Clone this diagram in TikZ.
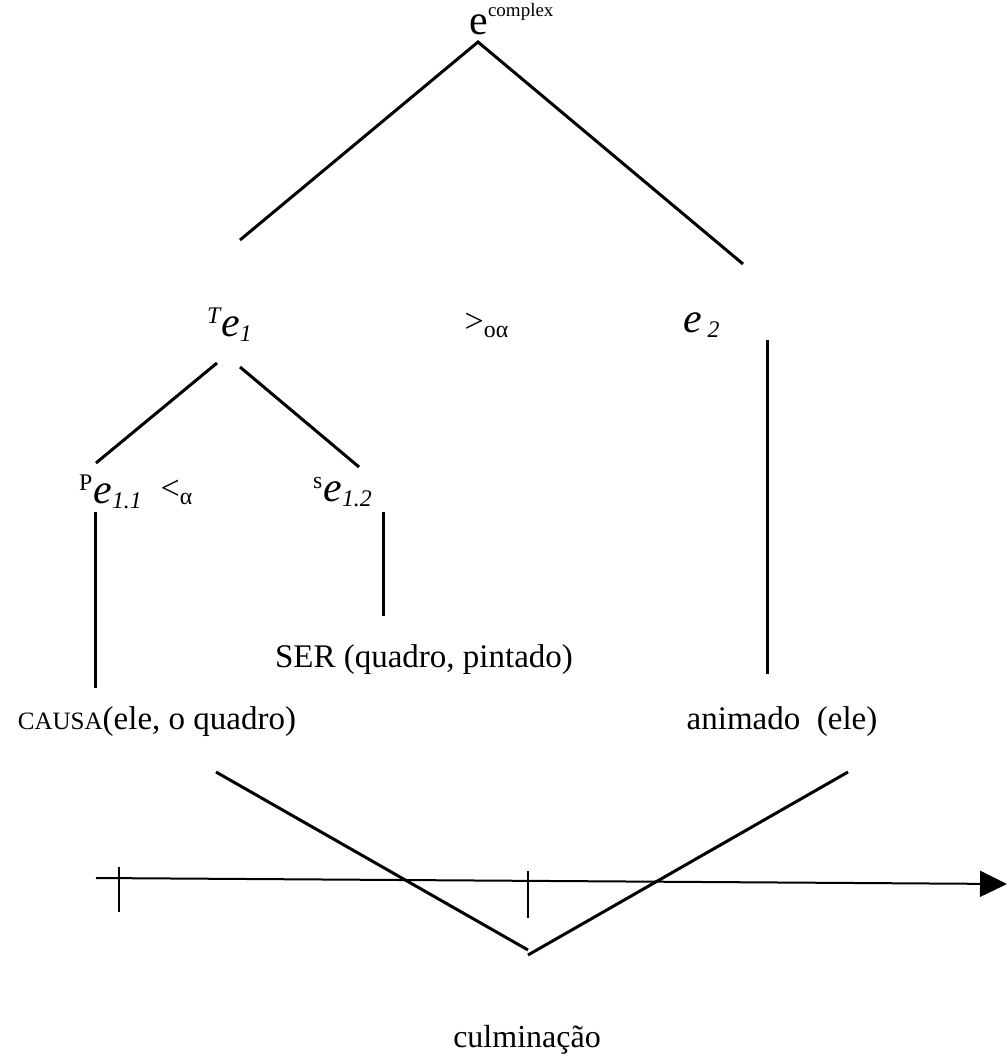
\documentclass[tikz,border=0pt]{standalone}
\usepackage{fontspec}
\setmainfont{Liberation Serif}
\usetikzlibrary{arrows.meta}

% event variable, set a bit larger and in italics
\newcommand{\evar}{{\fontsize{21}{24}\selectfont\itshape e}}

\begin{document}
\begin{tikzpicture}[x=0.5pt, y=-0.5pt,
  lbl/.style={inner sep=0pt, font=\fontsize{17}{20}\selectfont},
  pred/.style={inner sep=0pt, font=\fontsize{16.5}{19}\selectfont},
  branch/.style={line width=1.5pt},
  tickline/.style={line width=0.8pt}]
\useasboundingbox (0,0) rectangle (1007,1059);

%%% labels of the tree %%%
\node[lbl, anchor=base west] (top) at (469,35) {{\fontsize{21}{24}\selectfont e}\raisebox{9pt}{\fontsize{9.5}{11}\selectfont complex}};
\node[lbl] (te1) at (230,325) {\textsuperscript{\itshape T}\evar\textsubscript{\itshape 1}};
\node[lbl] (ord1) at (487,325) {>\textsubscript{oα}};
\node[lbl] (e2) at (702,325) {\evar\,\textsubscript{\itshape 2}};
\node[lbl] (pe11) at (111,492) {\textsuperscript{P}\evar\textsubscript{\itshape 1.1}};
\node[lbl] (ord2) at (177,492) {<\textsubscript{α}};
\node[lbl] (se12) at (343,492) {\textsuperscript{s}\evar\textsubscript{\itshape 1.2}};

%%% predicates %%%
\node[pred] (ser) at (424,660) {SER (quadro, pintado)};
\node[pred] (causa) at (157,722) {{\fontsize{12.5}{15}\selectfont CAUSA}(ele, o quadro)};
\node[pred] (anim) at (782,722) {animado\ \ (ele)};
\node[pred, font=\fontsize{16}{19}\selectfont] (culm) at (527,1040) {culminação};

%%% end points of the branches %%%
\coordinate (apex) at (478,42);
\coordinate (lt) at (240,240);
\coordinate (rt) at (743,264);
\coordinate (a1) at (217,363);
\coordinate (a2) at (240,367);
\coordinate (b1) at (96,463);
\coordinate (b2) at (359,467);
\coordinate (p1) at (95,512);
\coordinate (p2) at (95,688);
\coordinate (s1) at (383,512);
\coordinate (s2) at (383,616);
\coordinate (r1) at (767,340);
\coordinate (r2) at (767,674);
\coordinate (v1) at (216,772);
\coordinate (v2) at (528,950);
\coordinate (v3) at (528,955);
\coordinate (v4) at (848,772);
\coordinate (t0) at (96,878);
\coordinate (t1) at (1007,884);
\coordinate (k1) at (119,867);
\coordinate (k2) at (119,912);
\coordinate (m1) at (528,871);
\coordinate (m2) at (528,918);

\draw[branch] (lt) -- (apex) -- (rt);
\draw[branch] (a1) -- (b1);
\draw[branch] (a2) -- (b2);
\draw[branch] (p1) -- (p2);
\draw[branch] (s1) -- (s2);
\draw[branch] (r1) -- (r2);
\draw[branch] (v1) -- (v2);
\draw[branch] (v3) -- (v4);

%% time line
\draw[line width=1pt, -{Triangle[length=13.5pt,width=13pt]}] (t0) -- (t1);
\draw[tickline] (k1) -- (k2);
\draw[tickline] (m1) -- (m2);
\end{tikzpicture}
\end{document}
